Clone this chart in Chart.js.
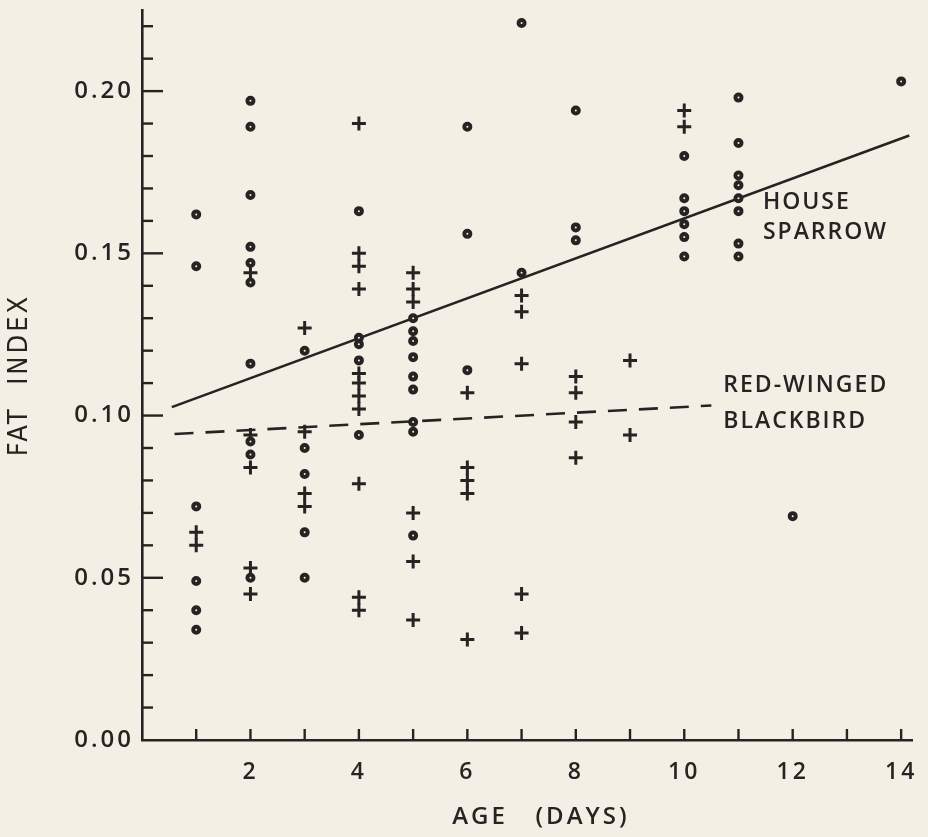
<!DOCTYPE html>
<html>
<head>
<meta charset="utf-8">
<script src="https://cdn.jsdelivr.net/npm/chart.js@4.4.0/dist/chart.umd.min.js"></script>
<style>
  body { margin: 0; background: #f4efe5; }
  #wrap { width: 928px; height: 837px; }
</style>
</head>
<body>
<div id="wrap"><canvas id="fat-chart" width="928" height="837"></canvas></div>
<script>
const INK = '#262422';
const PAPER = '#f4efe5';

// house sparrow (open circles), one line per day
const sparrow_age = [
  1, 1, 1, 1, 1, 1,
  2, 2, 2, 2, 2, 2, 2, 2, 2, 2,
  3, 3, 3, 3, 3,
  4, 4, 4, 4, 4,
  5, 5, 5, 5, 5, 5, 5, 5, 5,
  6, 6, 6,
  7, 7,
  8, 8, 8,
  10, 10, 10, 10, 10, 10,
  11, 11, 11, 11, 11, 11, 11, 11,
  12,
  14
];
const sparrow_fat = [
  0.162, 0.146, 0.072, 0.049, 0.040, 0.034,
  0.197, 0.189, 0.168, 0.152, 0.147, 0.141, 0.116, 0.092, 0.088, 0.050,
  0.120, 0.090, 0.082, 0.064, 0.050,
  0.163, 0.124, 0.122, 0.117, 0.094,
  0.130, 0.126, 0.123, 0.118, 0.112, 0.108, 0.098, 0.095, 0.063,
  0.189, 0.156, 0.114,
  0.221, 0.144,
  0.194, 0.158, 0.154,
  0.180, 0.167, 0.163, 0.159, 0.155, 0.149,
  0.198, 0.184, 0.174, 0.171, 0.167, 0.163, 0.153, 0.149,
  0.069,
  0.203
];

// red-winged blackbird (crosses)
const blackbird_age = [
  1, 1,
  2, 2, 2, 2, 2,
  3, 3, 3, 3,
  4, 4, 4, 4, 4, 4, 4, 4, 4, 4, 4,
  5, 5, 5, 5, 5, 5,
  6, 6, 6, 6, 6,
  7, 7, 7, 7, 7,
  8, 8, 8, 8,
  9, 9,
  10, 10
];
const blackbird_fat = [
  0.064, 0.060,
  0.144, 0.094, 0.084, 0.053, 0.045,
  0.127, 0.095, 0.076, 0.072,
  0.190, 0.150, 0.146, 0.139, 0.113, 0.110, 0.106, 0.102, 0.079, 0.044, 0.040,
  0.144, 0.139, 0.135, 0.070, 0.055, 0.037,
  0.107, 0.084, 0.080, 0.076, 0.031,
  0.137, 0.132, 0.116, 0.045, 0.033,
  0.112, 0.107, 0.098, 0.087,
  0.117, 0.094,
  0.194, 0.189
];

// fitted lines, end points
const sparrow_line_age = [0.55, 14.15];
const sparrow_line_fat = [0.1026, 0.1863];
const blackbird_line_age = [0.6, 10.5];
const blackbird_line_fat = [0.0943, 0.1031];

// axis ticks (every day / every 0.01) and which ones get a label
const x_ticks = [0, 1, 2, 3, 4, 5, 6, 7, 8, 9, 10, 11, 12, 13, 14];
const y_ticks = [0, 0.01, 0.02, 0.03, 0.04, 0.05, 0.06, 0.07, 0.08, 0.09, 0.10,
                 0.11, 0.12, 0.13, 0.14, 0.15, 0.16, 0.17, 0.18, 0.19, 0.20, 0.21, 0.22];
const x_labels = [2, 4, 6, 8, 10, 12, 14];
const y_labels = [0, 0.05, 0.10, 0.15, 0.20];

// species names, anchored in data units
const species_names = [
  { text: 'HOUSE', x: 11.45, y: 0.1656 },
  { text: 'SPARROW', x: 11.45, y: 0.1564 },
  { text: 'RED-WINGED', x: 10.72, y: 0.1093 },
  { text: 'BLACKBIRD', x: 10.72, y: 0.0982 }
];

const FONT = '"Open Sans", "DejaVu Sans", sans-serif';

function to_points(xs, ys) {
  return xs.map((x, i) => ({ x: x, y: ys[i] }));
}

// keep the plot box where the figure has it, whatever the labels measure
function no_label_padding(s) {
  s.paddingLeft = 0;
  s.paddingRight = 0;
  s.paddingTop = 0;
  s.paddingBottom = 0;
}

// ticks point inward from the axes, longer ones every 0.05
const inward_ticks = {
  id: 'inward_ticks',
  beforeUpdate(chart) { chart.ctx.letterSpacing = '3px'; },
  beforeDraw(chart) { chart.ctx.letterSpacing = '3px'; },
  afterDraw(chart) {
    const ctx = chart.ctx;
    const xs = chart.scales.x;
    const ys = chart.scales.y;
    ctx.save();
    ctx.setLineDash([]);
    ctx.strokeStyle = INK;
    ctx.lineWidth = 2.4;
    y_ticks.forEach(v => {
      if (v === 0) return;
      const py = ys.getPixelForValue(v);
      const len = y_labels.includes(v) ? 21 : 11;
      ctx.beginPath();
      ctx.moveTo(xs.left, py);
      ctx.lineTo(xs.left + len, py);
      ctx.stroke();
    });
    x_ticks.forEach(v => {
      if (v === 0) return;
      const px = xs.getPixelForValue(v);
      ctx.beginPath();
      ctx.moveTo(px, ys.bottom);
      ctx.lineTo(px, ys.bottom - 11);
      ctx.stroke();
    });

    ctx.fillStyle = INK;
    ctx.font = '600 23px ' + FONT;
    ctx.letterSpacing = '2px';
    ctx.textAlign = 'left';
    ctx.textBaseline = 'middle';
    species_names.forEach(n => {
      ctx.fillText(n.text, xs.getPixelForValue(n.x), ys.getPixelForValue(n.y));
    });
    ctx.restore();
  }
};

new Chart(document.getElementById('fat-chart'), {
  type: 'scatter',
  data: {
    datasets: [
      {
        label: 'House sparrow',
        data: to_points(sparrow_age, sparrow_fat),
        pointStyle: 'circle',
        pointRadius: 3,
        borderWidth: 4,
        borderColor: INK,
        backgroundColor: PAPER,
        order: 1
      },
      {
        label: 'Red-winged blackbird',
        data: to_points(blackbird_age, blackbird_fat),
        pointStyle: 'cross',
        pointRadius: 7,
        borderWidth: 3,
        borderColor: INK,
        backgroundColor: INK,
        order: 1
      },
      {
        type: 'line',
        label: 'House sparrow fit',
        data: to_points(sparrow_line_age, sparrow_line_fat),
        showLine: true,
        pointRadius: 0,
        borderWidth: 2.6,
        borderColor: INK,
        fill: false,
        order: 2
      },
      {
        type: 'line',
        label: 'Red-winged blackbird fit',
        data: to_points(blackbird_line_age, blackbird_line_fat),
        showLine: true,
        pointRadius: 0,
        borderWidth: 2.6,
        borderColor: INK,
        borderDash: [19, 12],
        fill: false,
        order: 2
      }
    ]
  },
  options: {
    responsive: false,
    animation: false,
    layout: { padding: { left: 0, right: 16, top: 8, bottom: 0 } },
    plugins: {
      legend: { display: false },
      tooltip: { enabled: false }
    },
    scales: {
      x: {
        type: 'linear',
        min: 0,
        max: 14.2,
        afterBuildTicks: s => { s.ticks = x_ticks.map(v => ({ value: v })); },
        afterFit: s => { s.height = 97; no_label_padding(s); },
        grid: { display: false, drawTicks: false },
        border: { display: true, color: INK, width: 2.6 },
        ticks: {
          autoSkip: false,
          maxRotation: 0,
          padding: 19,
          color: INK,
          font: { family: FONT, size: 23, weight: '600' },
          callback: v => (x_labels.includes(v) ? String(v) : null)
        },
        title: {
          display: true,
          text: '   AGE   (DAYS)',
          color: INK,
          font: { family: FONT, size: 24, weight: '600' },
          padding: { top: 0, bottom: 5 }
        }
      },
      y: {
        type: 'linear',
        min: 0,
        max: 0.225,
        afterBuildTicks: s => { s.ticks = y_ticks.map(v => ({ value: v })); },
        afterFit: s => { s.width = 142; no_label_padding(s); },
        grid: { display: false, drawTicks: false },
        border: { display: true, color: INK, width: 2.6 },
        ticks: {
          autoSkip: false,
          padding: 8,
          color: INK,
          font: { family: FONT, size: 24, weight: '600' },
          callback: v => (y_labels.includes(v) ? v.toFixed(2) : null)
        },
        title: {
          display: true,
          text: 'FAT  INDEX',
          color: INK,
          font: { family: 'DejaVu Sans Condensed', size: 27 },
          padding: { top: 4, bottom: 0 }
        }
      }
    }
  },
  plugins: [inward_ticks]
});
</script>
</body>
</html>
